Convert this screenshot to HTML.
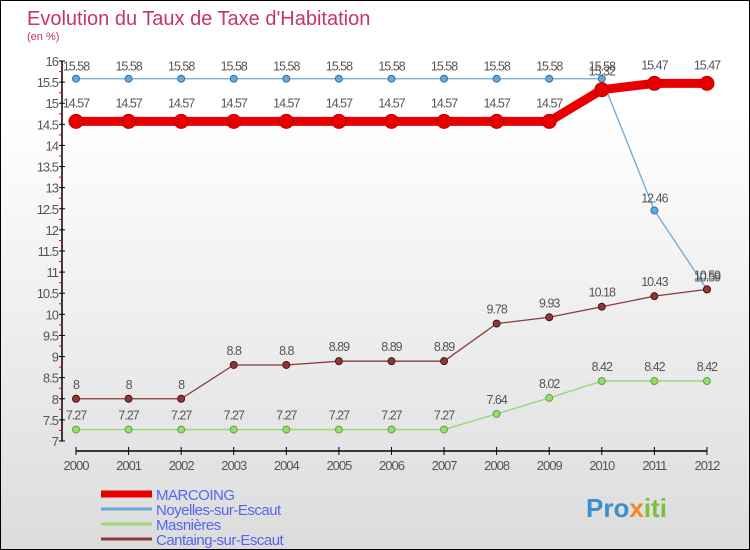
<!DOCTYPE html>
<html><head><meta charset="utf-8"><style>
body{margin:0}
#c{width:748px;height:548px;border:1px solid #000;background:linear-gradient(#fff,#fff 20%,#dcdcdc);position:relative;overflow:hidden;font-family:"Liberation Sans",sans-serif}
svg{position:absolute;left:0;top:0}
</style></head><body>
<div id="c">
<svg width="748" height="548" id="s">
<text x="26" y="24" font-size="20" fill="#c8336a">Evolution du Taux de Taxe d'Habitation</text>
<text x="26" y="39" font-size="11" fill="#c8336a">(en %)</text>
<text x="585" y="516" font-size="26" font-weight="bold" fill="#3a8fd0">Pro<tspan fill="#f08a1c">x</tspan><tspan fill="#7cbf3a">iti</tspan></text>
</svg>
</div>
<script>
const years=[2000,2001,2002,2003,2004,2005,2006,2007,2008,2009,2010,2011,2012];
const marcoing=[14.57,14.57,14.57,14.57,14.57,14.57,14.57,14.57,14.57,14.57,15.32,15.47,15.47];
const noyelles=[15.58,15.58,15.58,15.58,15.58,15.58,15.58,15.58,15.58,15.58,15.58,12.46,10.59];
const masnieres=[7.27,7.27,7.27,7.27,7.27,7.27,7.27,7.27,7.64,8.02,8.42,8.42,8.42];
const cantaing=[8,8,8,8.8,8.8,8.89,8.89,8.89,9.78,9.93,10.18,10.43,10.59];
const yTicks=[7,7.5,8,8.5,9,9.5,10,10.5,11,11.5,12,12.5,13,13.5,14,14.5,15,15.5,16];
const seriesNames=["MARCOING","Noyelles-sur-Escaut","Masnières","Cantaing-sur-Escaut"];
const NS="http://www.w3.org/2000/svg",s=document.getElementById('s');
const X=i=>75+i*52.58, Y=v=>60+(16-v)*42.22;
function el(t,a,p){const e=document.createElementNS(NS,t);for(const k in a)e.setAttribute(k,a[k]);(p||s).appendChild(e);return e;}
let ax=el('line',{x1:61,y1:60,x2:61,y2:440,stroke:'#000','stroke-width':1.5});


yTicks.forEach(v=>{const y=Y(v);
 el('line',{x1:58,y1:y,x2:64,y2:y,stroke:'#000'});
 if(v<16){el('line',{x1:58,y1:y-10.5,x2:61,y2:y-10.5,stroke:'#e00'});}
 const t=el('text',{x:57,y:y+5,'font-size':13,'text-anchor':'end',fill:'#555','letter-spacing':'-1'});t.textContent=String(v);
 
 
});
let xa=el('line',{x1:75,y1:450,x2:706,y2:450,stroke:'#000','stroke-width':1.5});


years.forEach((yr,i)=>{el('line',{x1:X(i),y1:446,x2:X(i),y2:454,stroke:'#000'});
 const t=el('text',{x:X(i),y:469,'font-size':13,'text-anchor':'middle',fill:'#555','letter-spacing':'-1'});t.textContent=yr;
 
 
});
function series(data,color,w,r,name,dotStroke,labelDy){
 const g=el('g',{});
 
 
 el('polyline',{points:data.map((v,i)=>X(i)+','+Y(v)).join(' '),fill:'none',stroke:color,'stroke-width':w},g);
 data.forEach((v,i)=>{const c=el('circle',{cx:X(i),cy:Y(v),r:r,fill:color,stroke:dotStroke,'stroke-width':1},g);
  
  
  const t=el('text',{x:X(i),y:Y(v)+labelDy,'font-size':12.5,'text-anchor':'middle',fill:'#555','letter-spacing':'-1'},g);t.textContent=String(v);
 });
}
series(noyelles,'#6aa8d8',1.3,3.5,'noyelles-series','#2a70b0',-8);
series(masnieres,'#9ad878',1.5,3.5,'masnieres-series','#58a830',-10);
series(cantaing,'#8a3a3a',1.3,3.5,'cantaing-series','#501010',-10);
series(marcoing,'#e80000',9,7,'marcoing-series','#c00000',-14);
const lc=['#e80000','#6aa8d8','#9ad878','#8a3a3a'],lw=[7,3,3,3];
seriesNames.forEach((n,i)=>{const y=493+i*15;
 const l=el('line',{x1:100,y1:y,x2:151,y2:y,stroke:lc[i],'stroke-width':lw[i]});
 
 
 const t=el('text',{x:155,y:y+6,'font-size':15,fill:'#5566ee','letter-spacing':'-0.5'});t.textContent=n;
 
 
});
</script>
</body></html>
